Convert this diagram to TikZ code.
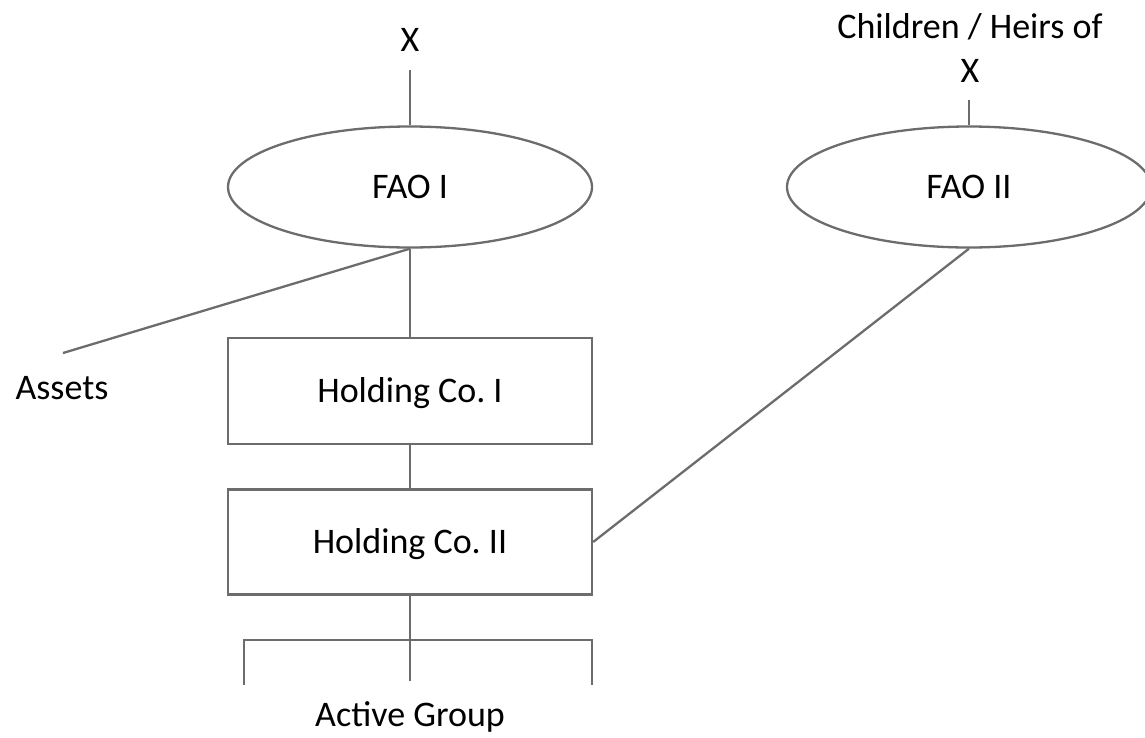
\documentclass[tikz,border=0pt]{standalone}
\usepackage{fontspec}
\setmainfont{Carlito}
\usetikzlibrary{shapes.geometric}
\definecolor{lg}{RGB}{108,108,108}
\tikzset{
  conn/.style={draw=lg, line width=2.3pt},
  lbl/.style={font=\fontsize{36}{44}\selectfont, inner sep=0pt, text height=23pt, text depth=0pt},
  oval/.style={ellipse, draw=lg, line width=2.3pt, minimum width=364pt, minimum height=121pt, inner sep=0pt, lbl},
  boxn/.style={rectangle, draw=lg, line width=2.3pt, minimum width=364pt, inner sep=0pt, lbl}
}
\begin{document}
\begin{tikzpicture}[x=1pt,y=-1pt]
\useasboundingbox (0,0) rectangle (1145,737);
\node[lbl] (x1) at (410,40) {X};
\node[lbl, align=center, text height=, text depth=] (heirs) at (970,48) {Children / Heirs of\\X};
\node[oval] (fao1) at (410,187) {FAO I};
\node[oval] (fao2) at (969,187) {FAO II};
\node[lbl] (assets) at (62,388) {Assets};
\node[boxn, minimum height=106pt] (hc1) at (410,391) {Holding Co.\ I};
\node[boxn, minimum height=105pt] (hc2) at (410,542) {Holding Co.\ II};
\node[lbl] (active) at (410,715) {Active Group};
\coordinate (x1end) at (410,70);
\coordinate (heirsend) at (969,100);
\coordinate (assetsend) at (63,353);
\coordinate (mid) at (410,681);
\coordinate (bl) at (244,685);
\coordinate (br) at (592,685);
\coordinate (bm) at (410,640);
\draw[conn] (x1end) -- (fao1.north);
\draw[conn] (heirsend) -- (fao2.north);
\draw[conn] (fao1.south) -- (assetsend);
\draw[conn] (fao1.south) -- (hc1.north);
\draw[conn] (hc1.south) -- (hc2.north);
\draw[conn] (fao2.south) -- (hc2.east);
\draw[conn] (hc2.south) -- (mid);
\draw[conn] (bl) |- (bm) -| (br);
\end{tikzpicture}
\end{document}
